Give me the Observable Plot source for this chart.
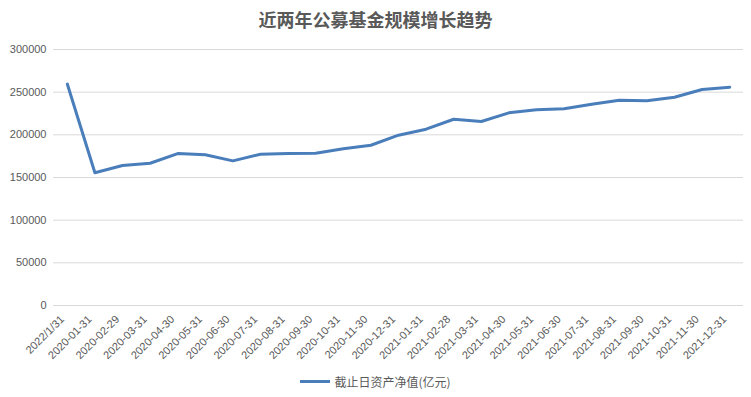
<!DOCTYPE html>
<html><head><meta charset="utf-8">
<script src="https://cdn.jsdelivr.net/npm/d3@7"></script>
<script src="https://cdn.jsdelivr.net/npm/@observablehq/plot@0.6"></script>
<style>
body{margin:0;background:#fff;width:751px;height:397px;overflow:hidden;font-family:"Liberation Sans",Arial,sans-serif;}
#title{height:36px;line-height:38px;text-align:center;font-family:"Noto Sans CJK SC",sans-serif;font-size:18px;color:#595959;font-weight:600;}
#legend{height:31px;display:flex;align-items:center;justify-content:center;font-family:"Noto Sans CJK SC",sans-serif;font-size:12px;color:#595959;}
#legend .sw{width:30px;height:3px;background:#4a7ebb;margin-right:4px;}
</style></head>
<body>
<div id="title">近两年公募基金规模增长趋势</div>
<div id="chart"></div>
<div id="legend"><span class="sw"></span><span>截止日资产净值(亿元)</span></div>
<script>
const dates = ["2022/1/31","2020-01-31","2020-02-29","2020-03-31","2020-04-30","2020-05-31","2020-06-30","2020-07-31","2020-08-31","2020-09-30","2020-10-31","2020-11-30","2020-12-31","2021-01-31","2021-02-28","2021-03-31","2021-04-30","2021-05-31","2021-06-30","2021-07-31","2021-08-31","2021-09-30","2021-10-31","2021-11-30","2021-12-31"];
const values = [259500,155500,164000,166700,178000,176600,169500,177300,178000,178300,183600,187800,199600,206600,218300,215600,225800,229300,230500,235900,240600,239900,244100,253100,255800];
const yTicks = [0,50000,100000,150000,200000,250000,300000];
const seriesName = "截止日资产净值(亿元)";
const data = dates.map((d,i)=>({date:d, value:values[i]}));
const chart = Plot.plot({
  width: 751, height: 330,
  marginTop: 13, marginBottom: 61, marginLeft: 53, marginRight: 8,
  style: {fontFamily: "Liberation Sans, Arial, sans-serif", fontSize: "11px", color: "#595959", background: "#fff"},
  x: {type: "point", domain: dates, padding: 0.5, round: false, label: null},
  y: {domain: [0, 300000], label: null},
  marks: [
    Plot.gridY(yTicks, {stroke: "#d9d9d9", strokeOpacity: 1, strokeWidth: 1}),
    Plot.axisY(yTicks, {tickSize: 0, tickPadding: 7, tickFormat: d3.format("d"), label: null, fontSize: 11}),
    Plot.axisX(dates, {tickSize: 0, tickPadding: 4, dx: -5, dy: 8, tickRotate: -45, label: null, fontSize: 11}),
    Plot.line(data, {x: "date", y: "value", stroke: "#4a7ebb", strokeWidth: 3, strokeLinejoin: "round", strokeLinecap: "round"})
  ]
});
document.getElementById("chart").appendChild(chart);
</script>
</body></html>
